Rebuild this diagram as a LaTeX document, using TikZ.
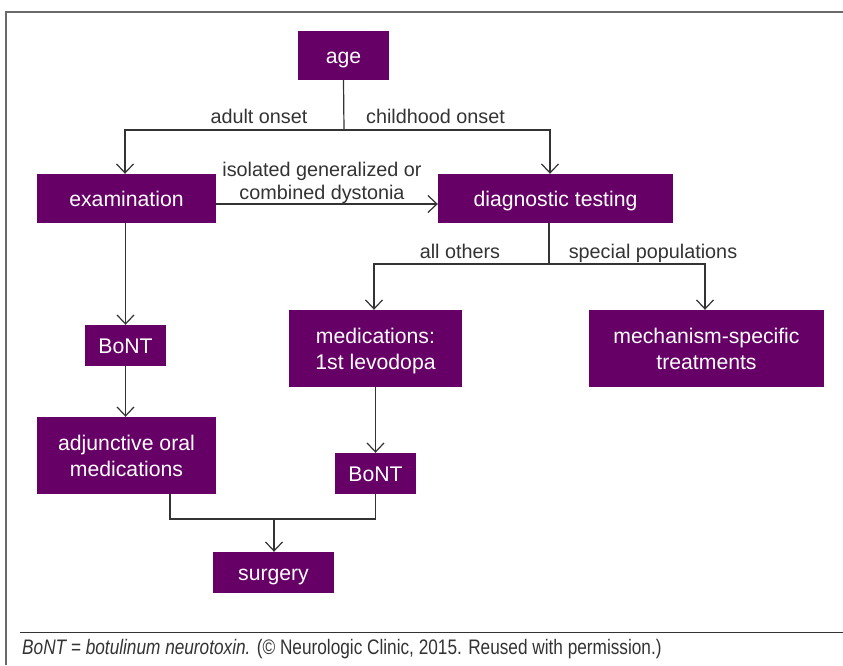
\documentclass[tikz,border=0pt]{standalone}
\usepackage{fontspec}
\setmainfont{Liberation Sans}
\newfontfamily\capfont[FakeStretch=0.82]{Liberation Sans}
\usetikzlibrary{arrows.meta}
\definecolor{purp}{HTML}{660066}
\definecolor{conn}{HTML}{333333}
\definecolor{framec}{HTML}{6A6A6A}
\tikzset{
  box/.style={fill=purp, text=white, inner sep=0pt, align=center,
    text height=15pt, text depth=0pt,
    font=\fontsize{21.2pt}{26pt}\selectfont},
  boxtwo/.style={box, text height=41pt},
  lbl/.style={text=conn, inner sep=0pt, align=center,
    text height=14pt, text depth=0pt,
    font=\fontsize{19.8pt}{23pt}\selectfont},
  lbltwo/.style={lbl, text height=37pt},
  conline/.style={draw=conn, line width=1.2pt},
  arr/.style={conline, -{Straight Barb[length=9pt,width=17pt,line width=1.2pt]}}
}
\begin{document}
\begin{tikzpicture}[x=1pt,y=-1pt]
\useasboundingbox (0,0) rectangle (843,665);
% frame
\draw[framec, line width=2pt] (6,665) -- (6,12) -- (843,12);
\draw[conn, line width=1.8pt] (20,632.5) -- (843,632.5);
\node[anchor=base west, inner sep=0pt, text=conn, font=\capfont\fontsize{21pt}{24pt}\selectfont] (cap) at (22,654)
  {\textit{BoNT = botulinum neurotoxin.} (© Neurologic Clinic, 2015. Reused with permission.)};
% boxes
\node[box, minimum width=91pt, minimum height=49pt] (age) at (343.5,55.5) {age};
\node[box, minimum width=179pt, minimum height=49pt] (exam) at (126.5,198.5) {examination};
\node[box, minimum width=235pt, minimum height=49pt] (diag) at (555.5,198.5) {diagnostic testing};
\node[box, minimum width=81pt, minimum height=41pt] (bont1) at (125.5,345.5) {BoNT};
\node[boxtwo, minimum width=179pt, minimum height=77pt] (adj) at (126.5,455.5) {adjunctive oral\\medications};
\node[boxtwo, minimum width=173pt, minimum height=77pt] (med) at (375.5,348.5) {medications:\\1st levodopa};
\node[boxtwo, minimum width=235pt, minimum height=77pt] (mech) at (706.5,348.5) {mechanism-specific\\treatments};
\node[box, minimum width=81pt, minimum height=41pt] (bont2) at (375.5,473.5) {BoNT};
\node[box, minimum width=121pt, minimum height=41pt] (surg) at (273.5,572.5) {surgery};
% labels
\node[lbl] (ladult) at (259,116.5) {adult onset};
\node[lbl] (lchild) at (435.5,116.5) {childhood onset};
\node[lbltwo] (liso) at (322,180.5) {isolated generalized or\\combined dystonia};
\node[lbl] (lall) at (460,251.5) {all others};
\node[lbl] (lspec) at (653,251.5) {special populations};
% connectors
\coordinate (ab) at (344,130);
\draw[conline] (age.south) -- (ab);
\draw[arr] (ab) -| ([xshift=-1.5pt]exam.north);
\draw[arr] (ab) -| ([xshift=-5.5pt]diag.north);
\draw[arr] ([yshift=-5.5pt]exam.east) -- ([yshift=-5.5pt]diag.west);
\draw[arr] (bont1 |- exam.south) -- (bont1.north);
\draw[arr] (bont1.south) -- (bont1 |- adj.north);
\coordinate (db) at (549,264);
\draw[conline] (db |- diag.south) -- (db);
\draw[arr] (db) -| ([xshift=-1.5pt]med.north);
\draw[arr] (db) -| ([xshift=-1.5pt]mech.north);
\draw[arr] (med.south -| bont2) -- (bont2.north);
\coordinate (sj) at (274,519);
\draw[conline] ([xshift=43.5pt]adj.south) |- (bont2.south |- sj) -- (bont2.south);
\draw[arr] (sj) -- (surg.north -| sj);
\end{tikzpicture}
\end{document}
